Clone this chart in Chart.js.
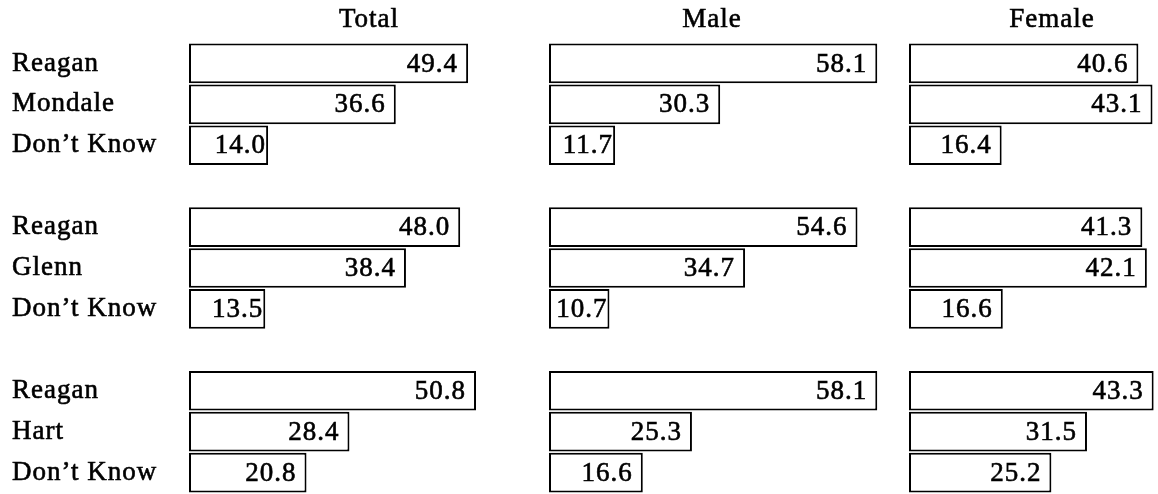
<!DOCTYPE html>
<html>
<head>
<meta charset="utf-8">
<script src="https://cdn.jsdelivr.net/npm/chart.js@4.4.1/dist/chart.umd.min.js"></script>
<style>
  html, body { margin: 0; padding: 0; background: #fff; }
  #wrap { position: relative; width: 1158px; height: 494px; }
  canvas { position: absolute; top: 0; }
</style>
</head>
<body>
<div id="wrap">
  <canvas id="total" width="549" height="494" style="left:0"></canvas>
  <canvas id="male" width="360" height="494" style="left:549px"></canvas>
  <canvas id="female" width="249" height="494" style="left:909px"></canvas>
</div>
<script>
const panelTitles = ['Total', 'Male', 'Female'];
const matchups = [
    ['Reagan', 'Mondale', 'Don\u2019t Know'],
    ['Reagan', 'Glenn', 'Don\u2019t Know'],
    ['Reagan', 'Hart', 'Don\u2019t Know']
];
const totalValues = [[49.4, 36.6, 14.0], [48.0, 38.4, 13.5], [50.8, 28.4, 20.8]];
const maleValues = [[58.1, 30.3, 11.7], [54.6, 34.7, 10.7], [58.1, 25.3, 16.6]];
const femaleValues = [[40.6, 43.1, 16.4], [41.3, 42.1, 16.6], [43.3, 31.5, 25.2]];

const FONT = '"Liberation Serif", "Times New Roman", serif';
const PX_PER_POINT = 5.65;

// flatten the three match-ups, with an empty row between them
function rows(groups, blank) {
    let out = [];
    groups.forEach((g, i) => {
        if (i > 0) out.push(blank);
        out.push(...g);
    });
    return out;
}
const labels = rows(matchups, '');

// a bit heavier than plain canvas text, like the old print
function inkText(ctx, text, x, y) {
    ctx.lineWidth = 0.6;
    ctx.strokeStyle = '#000';
    ctx.fillText(text, x, y);
    ctx.strokeText(text, x, y);
}

const typeset = {
    id: 'typeset',
    beforeDraw(chart) {
        chart.ctx.letterSpacing = '1px';
    },
    afterDatasetsDraw(chart) {
        const ctx = chart.ctx;
        const meta = chart.getDatasetMeta(0);
        const data = chart.data.datasets[0].data;
        ctx.save();
        ctx.font = '27px ' + FONT;
        ctx.fillStyle = '#000';
        ctx.textAlign = 'right';
        ctx.textBaseline = 'middle';
        meta.data.forEach((bar, i) => {
            const v = data[i];
            if (v == null) return;
            const text = v.toFixed(1);
            const w = ctx.measureText(text).width;
            let right = Math.max(bar.x - 10, bar.base + 30 + w);
            right = Math.min(right, bar.x - 2);
            inkText(ctx, text, right, bar.y + 1);
        });
        ctx.restore();
    },
    afterDraw(chart, args, opts) {
        const ctx = chart.ctx;
        ctx.save();
        ctx.font = '27px ' + FONT;
        ctx.fillStyle = '#000';
        ctx.textAlign = 'center';
        ctx.textBaseline = 'middle';
        inkText(ctx, opts.title, chart.chartArea.left + opts.offset, 20);
        ctx.restore();
    }
};

function makePanel(id, values, title, offset, areaWidth, showLabels) {
    return new Chart(document.getElementById(id), {
        type: 'bar',
        data: {
            labels: labels,
            datasets: [{
                data: rows(values, null),
                backgroundColor: '#fff',
                borderColor: '#000',
                borderWidth: 2,
                borderSkipped: false,
                barPercentage: 0.97,
                categoryPercentage: 1
            }]
        },
        options: {
            indexAxis: 'y',
            responsive: false,
            animation: false,
            layout: { padding: { top: 43, bottom: 1, left: showLabels ? 12 : 0, right: 0 } },
            scales: {
                x: { display: false, min: 0, max: areaWidth / PX_PER_POINT },
                y: {
                    display: showLabels,
                    grid: { display: false },
                    border: { display: false },
                    ticks: {
                        crossAlign: 'far',
                        color: '#000',
                        textStrokeColor: '#000',
                        textStrokeWidth: 0.6,
                        padding: 0,
                        autoSkip: false,
                        font: { family: FONT, size: 27 }
                    },
                    afterFit: s => {
                        if (!showLabels) return;
                        s.width = 177;
                        s.paddingTop = 0;
                        s.paddingBottom = 0;
                    }
                }
            },
            plugins: {
                legend: { display: false },
                tooltip: { enabled: false },
                typeset: { title: title, offset: offset }
            }
        },
        plugins: [typeset]
    });
}

makePanel('total', totalValues, panelTitles[0], 180, 360, true);
makePanel('male', maleValues, panelTitles[1], 163, 360, false);
makePanel('female', femaleValues, panelTitles[2], 143, 249, false);
</script>
</body>
</html>
